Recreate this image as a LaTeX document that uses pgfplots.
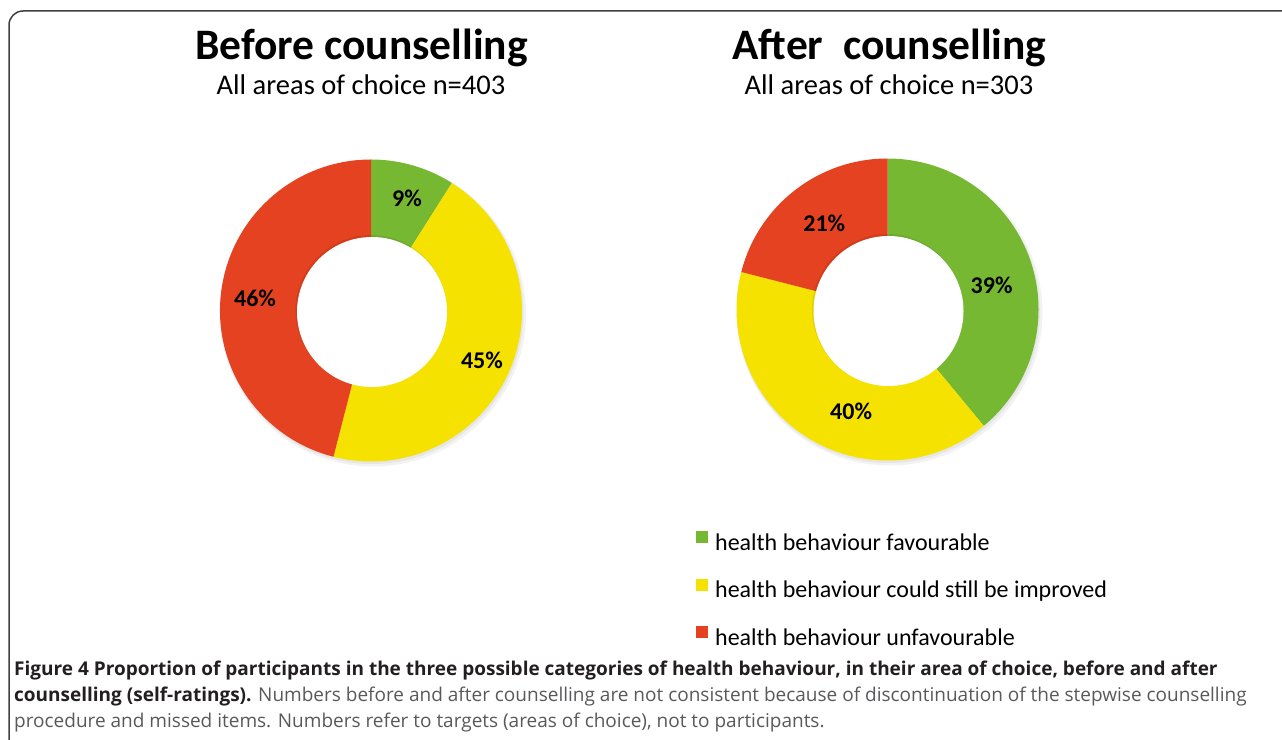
\documentclass[border=0pt]{standalone}
\usepackage{pgfplots}
\pgfplotsset{compat=1.18}
\usepackage{pgfplotstable}
\usepackage{fontspec}
\setmainfont{Carlito}
\newfontfamily\capfont{Open Sans}

\definecolor{cgreen}{RGB}{118,184,50}
\definecolor{cyellow}{RGB}{245,226,0}
\definecolor{cred}{RGB}{228,66,32}
\definecolor{capdark}{RGB}{35,31,32}
\definecolor{capgray}{RGB}{88,89,91}

% share in percent, label position in axis units
\pgfplotstableread{
pct lx ly
9 0.238 0.742
45 0.735 -0.328
46 -0.768 0.083
}\tblbefore

\pgfplotstableread{
pct lx ly
39 0.692 0.162
40 -0.242 -0.679
21 -0.420 0.573
}\tblafter

\newcommand\donut[1]{%
  \fill[black,opacity=0.05] (axis cs:0,0) ++(2bp,-3bp) circle[radius=153bp];
  \fill[black,opacity=0.05] (axis cs:0,0) ++(1bp,-2bp) circle[radius=151.5bp];
  \def\startang{90}%
  \pgfplotsforeachungrouped \i in {0,1,2}{%
    \pgfplotstablegetelem{\i}{pct}\of#1\let\pct\pgfplotsretval
    \pgfmathsetmacro\endang{\startang-3.6*\pct}%
    \ifcase\i\relax\def\col{cgreen}\or\def\col{cyellow}\or\def\col{cred}\fi
    \edef\cmd{\noexpand\fill[\col] (axis cs:0,0) -- ++(\startang:151bp)
      arc[start angle=\startang, end angle=\endang, radius=151bp] -- cycle;}%
    \cmd
    \let\startang\endang
  }%
  \fill[black,opacity=0.08] (axis cs:0,0) circle[radius=75.5bp];
  \fill[white] (axis cs:0,0) ++(1bp,-1.5bp) circle[radius=75bp];
  \pgfplotsforeachungrouped \i in {0,1,2}{%
    \pgfplotstablegetelem{\i}{pct}\of#1\let\pct\pgfplotsretval
    \pgfplotstablegetelem{\i}{lx}\of#1\let\lx\pgfplotsretval
    \pgfplotstablegetelem{\i}{ly}\of#1\let\ly\pgfplotsretval
    \edef\cmd{\noexpand\node[font=\noexpand\bfseries\noexpand\fontsize{24bp}{24bp}\noexpand\selectfont]
      at (axis cs:\lx,\ly) {\pct\noexpand\%};}%
    \cmd
  }%
}

\begin{document}
\begin{tikzpicture}
\useasboundingbox (0,0) rectangle (1282bp,740bp);
\draw[line width=1.5bp, color=black!75, rounded corners=14bp]
  (1300bp,729bp) -- (9bp,729bp) -- (9bp,-20bp);

\begin{axis}[
  at={(371bp,429.5bp)}, anchor=center,
  width=302bp, height=302bp, scale only axis,
  xmin=-1, xmax=1, ymin=-1, ymax=1,
  hide axis, clip=false
]
\donut{\tblbefore}
\end{axis}

\begin{axis}[
  at={(887.5bp,430.5bp)}, anchor=center,
  width=301bp, height=301bp, scale only axis,
  xmin=-1, xmax=1, ymin=-1, ymax=1,
  hide axis, clip=false,
  legend style={at={(axis description cs:-0.137,-0.235)}, anchor=north west,
    draw=none, fill=none, inner sep=0pt,
    font=\fontsize{24bp}{25bp}\selectfont, row sep=25bp,
    cells={anchor=west}},
  legend image code/.code={\fill[#1, draw=none] (0bp,-0.5bp) rectangle (12bp,11.5bp); \path (17bp,0bp);}
]
\donut{\tblafter}
\addlegendimage{fill=cgreen}
\addlegendentry{health behaviour favourable}
\addlegendimage{fill=cyellow}
\addlegendentry{health behaviour could still be improved}
\addlegendimage{fill=cred}
\addlegendentry{health behaviour unfavourable}
\end{axis}

% titles
\node[anchor=base, font=\bfseries\fontsize{43.5bp}{44bp}\selectfont] at (361.5bp,680bp) {Before counselling};
\node[anchor=base, font=\fontsize{28.5bp}{29bp}\selectfont] at (361bp,645bp) {All areas of choice n=403};
\node[anchor=base, font=\bfseries\fontsize{43.5bp}{44bp}\selectfont] at (889.5bp,680bp) {After~ counselling};
\node[anchor=base, font=\fontsize{28.5bp}{29bp}\selectfont] at (889bp,645bp) {All areas of choice n=303};

% caption
\begin{scope}[every node/.style={anchor=base west, inner sep=0pt, font=\capfont\fontsize{19bp}{20bp}\selectfont}]
\node[text=capdark] at (14bp,64.5bp) {\bfseries Figure 4 Proportion of participants in the three possible categories of health behaviour, in their area of choice, before and after};
\node[text=capgray] at (14bp,38.5bp) {\textcolor{capdark}{\bfseries counselling (self-ratings).} Numbers before and after counselling are not consistent because of discontinuation of the stepwise counselling};
\node[text=capgray] at (14bp,12.5bp) {procedure and missed items. Numbers refer to targets (areas of choice), not to participants.};
\end{scope}
\end{tikzpicture}
\end{document}
